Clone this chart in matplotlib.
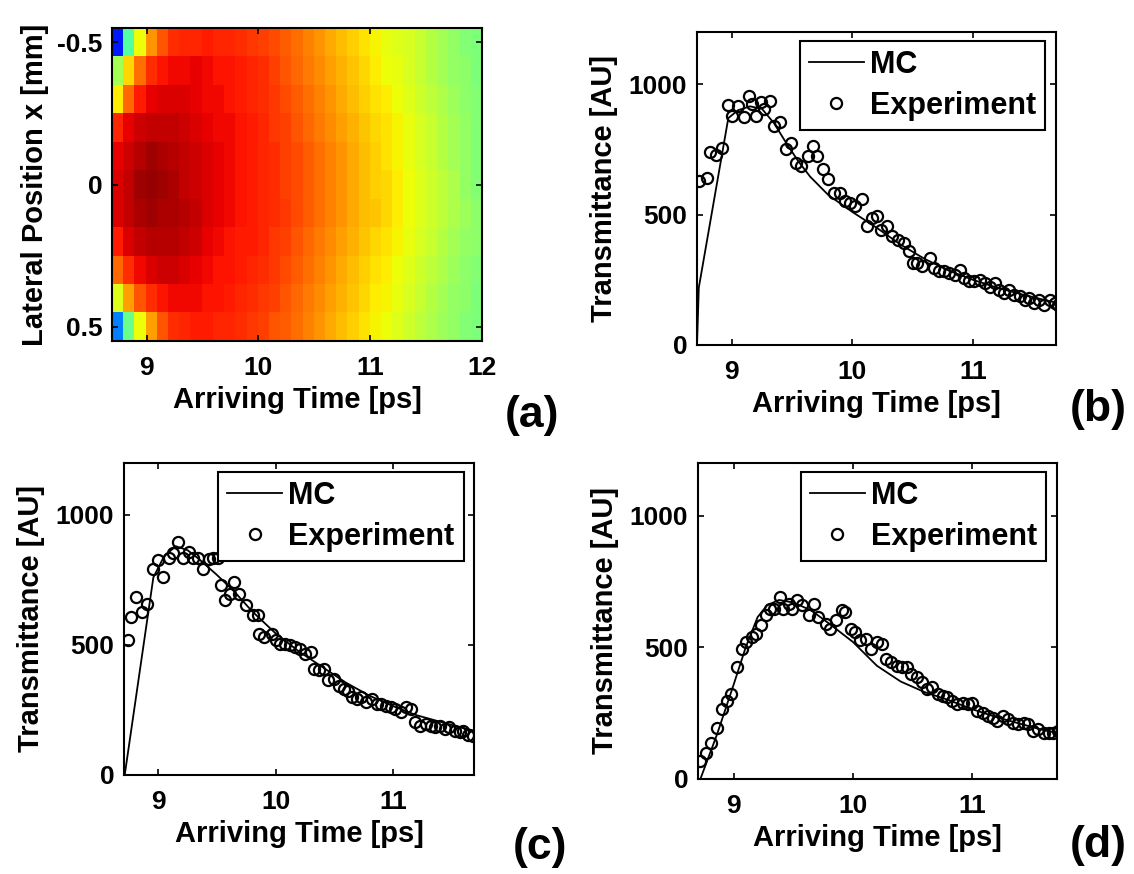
import numpy as np
import matplotlib
matplotlib.use('Agg')
import matplotlib.pyplot as plt

plt.rcParams['font.family'] = ['Liberation Sans', 'DejaVu Sans']
plt.rcParams['font.weight'] = 'bold'

# (a) lateral position map: rows are -0.5 .. 0.5 mm, columns are 0.1 ps time bins, values in % of max
map_rows = [
    [15, 45, 64, 75, 82, 86, 87, 87, 88, 87, 87, 86, 85, 84, 83, 81, 79, 77, 75, 73, 71, 69, 67, 65, 63, 62, 61, 59, 57, 55, 53, 51, 50],
    [55, 68, 79, 86, 89, 90, 90, 91, 90, 89, 89, 88, 87, 86, 84, 82, 80, 78, 76, 74, 72, 70, 68, 66, 64, 63, 61, 59, 57, 55, 53, 52, 50],
    [66, 80, 88, 91, 92, 92, 92, 91, 90, 90, 89, 88, 87, 86, 85, 83, 81, 79, 77, 75, 73, 71, 69, 67, 66, 64, 62, 60, 58, 56, 54, 52, 51],
    [87, 91, 93, 94, 94, 94, 93, 92, 91, 90, 90, 89, 88, 87, 85, 84, 82, 80, 78, 76, 74, 72, 70, 68, 67, 65, 63, 61, 59, 57, 55, 53, 51],
    [91, 93, 95, 97, 96, 95, 94, 93, 92, 91, 90, 89, 88, 87, 86, 84, 83, 81, 79, 77, 75, 73, 71, 69, 67, 65, 63, 61, 59, 57, 55, 53, 51],
    [92, 94, 97, 98, 97, 96, 94, 93, 92, 91, 90, 89, 88, 87, 86, 84, 83, 81, 79, 77, 75, 73, 71, 69, 68, 66, 64, 62, 60, 58, 56, 53, 51],
    [92, 94, 96, 97, 96, 96, 95, 94, 92, 91, 90, 89, 88, 87, 86, 85, 83, 81, 79, 77, 75, 73, 71, 70, 68, 66, 64, 62, 60, 58, 56, 54, 52],
    [88, 92, 94, 95, 95, 95, 94, 93, 91, 90, 89, 88, 88, 87, 85, 84, 82, 80, 78, 76, 74, 72, 70, 68, 67, 65, 63, 61, 59, 57, 55, 53, 52],
    [80, 86, 90, 92, 93, 93, 92, 91, 90, 89, 89, 88, 87, 86, 85, 83, 81, 79, 77, 75, 73, 71, 69, 67, 66, 64, 62, 60, 58, 56, 54, 52, 51],
    [62, 74, 82, 86, 89, 90, 90, 90, 89, 89, 88, 87, 86, 85, 84, 82, 80, 78, 76, 74, 72, 70, 68, 66, 65, 63, 61, 59, 57, 55, 53, 52, 50],
    [25, 48, 64, 74, 82, 86, 87, 88, 88, 87, 87, 86, 85, 84, 82, 81, 79, 77, 75, 73, 71, 69, 67, 65, 64, 62, 60, 58, 56, 54, 53, 51, 50],
]
map_time_range = [8.69, 12.0]
map_pos_range = [-0.55, 0.55]

# (b) experiment and MC
b_t = [8.73, 8.79, 8.82, 8.87, 8.92, 8.97, 9.00, 9.05, 9.10, 9.14, 9.17, 9.20, 9.24, 9.27, 9.32,
       9.35, 9.40, 9.45, 9.49, 9.53, 9.57, 9.63, 9.67, 9.71, 9.76, 9.80, 9.85, 9.90, 9.94, 9.98,
       10.02, 10.08, 10.12, 10.16, 10.20, 10.24, 10.29, 10.33, 10.38, 10.43, 10.47, 10.50, 10.54, 10.58, 10.64,
       10.68, 10.72, 10.76, 10.80, 10.85, 10.89, 10.93, 10.97, 11.01, 11.06, 11.10, 11.14, 11.18, 11.22, 11.26,
       11.30, 11.34, 11.39, 11.43, 11.47, 11.51, 11.55, 11.59, 11.64, 11.68, 11.71]
b_v = [628, 641, 740, 727, 756, 919, 878, 917, 876, 955, 925, 878, 932, 904, 936,
       840, 855, 750, 776, 699, 686, 724, 763, 724, 673, 635, 583, 583, 551, 545,
       532, 558, 455, 487, 494, 442, 455, 417, 404, 391, 359, 314, 314, 301, 333,
       295, 282, 282, 276, 269, 288, 256, 244, 244, 250, 237, 224, 237, 212, 199,
       212, 192, 186, 173, 179, 160, 173, 154, 173, 160, 155]
b_mc_t = [8.71, 8.725, 8.97, 9.05, 9.15, 9.25, 9.35, 9.45, 9.55, 9.65, 9.8, 10.0, 10.2, 10.4, 10.6, 10.8, 11.0, 11.2, 11.4, 11.6, 11.72]
b_mc_v = [0, 220, 870, 900, 915, 905, 850, 775, 705, 645, 575, 510, 450, 385, 330, 285, 250, 220, 195, 172, 160]

# (c) experiment and MC
c_t = [8.74, 8.77, 8.81, 8.86, 8.91, 8.96, 9.00, 9.04, 9.09, 9.13, 9.17, 9.21, 9.26, 9.30, 9.34,
       9.38, 9.43, 9.47, 9.51, 9.54, 9.57, 9.61, 9.65, 9.69, 9.75, 9.81, 9.85, 9.86, 9.90, 9.97,
       10.00, 10.04, 10.08, 10.12, 10.17, 10.21, 10.25, 10.30, 10.33, 10.37, 10.41, 10.45, 10.50, 10.54, 10.58,
       10.62, 10.65, 10.69, 10.73, 10.77, 10.82, 10.86, 10.90, 10.94, 10.98, 11.02, 11.07, 11.11, 11.15, 11.19,
       11.23, 11.28, 11.32, 11.36, 11.40, 11.44, 11.48, 11.53, 11.57, 11.60, 11.64, 11.68]
c_v = [521, 608, 685, 627, 659, 794, 826, 762, 833, 852, 897, 833, 859, 833, 833,
       794, 829, 833, 833, 730, 672, 698, 743, 698, 653, 614, 614, 544, 531, 544,
       518, 505, 505, 499, 492, 486, 467, 473, 409, 402, 409, 364, 370, 344, 332,
       325, 299, 293, 299, 280, 293, 274, 274, 267, 261, 254, 242, 261, 254, 203,
       190, 197, 190, 184, 190, 177, 184, 171, 165, 171, 152, 150]
c_mc_t = [8.716, 8.96, 9.05, 9.15, 9.25, 9.35, 9.5, 9.65, 9.8, 10.0, 10.2, 10.4, 10.6, 10.8, 11.0, 11.2, 11.4, 11.6, 11.7]
c_mc_v = [0, 760, 840, 880, 865, 830, 770, 705, 630, 545, 475, 415, 355, 305, 265, 230, 205, 180, 170]

# (d) experiment and MC
d_t = [8.72, 8.77, 8.81, 8.86, 8.90, 8.94, 8.98, 9.03, 9.07, 9.10, 9.15, 9.19, 9.23, 9.27, 9.30,
       9.34, 9.39, 9.41, 9.46, 9.49, 9.53, 9.57, 9.63, 9.67, 9.71, 9.77, 9.81, 9.86, 9.91, 9.93,
       9.98, 10.02, 10.06, 10.11, 10.15, 10.20, 10.24, 10.28, 10.32, 10.37, 10.41, 10.45, 10.49, 10.54, 10.58,
       10.62, 10.66, 10.71, 10.75, 10.79, 10.83, 10.87, 10.92, 10.96, 11.00, 11.04, 11.09, 11.13, 11.17, 11.21,
       11.26, 11.30, 11.34, 11.38, 11.43, 11.47, 11.51, 11.55, 11.60, 11.64, 11.68, 11.72]
d_v = [68, 99, 138, 195, 265, 297, 322, 424, 494, 520, 539, 552, 583, 622, 647,
       647, 692, 647, 666, 647, 679, 660, 622, 666, 615, 590, 571, 602, 641, 634,
       571, 558, 526, 532, 494, 520, 513, 456, 443, 431, 424, 424, 399, 386, 367,
       341, 348, 322, 316, 310, 297, 284, 290, 284, 290, 259, 252, 240, 233, 220,
       240, 227, 214, 208, 214, 208, 182, 188, 176, 176, 176, 182]
d_mc_t = [8.72, 8.86, 9.0, 9.1, 9.2, 9.28, 9.38, 9.5, 9.65, 9.8, 10.0, 10.2, 10.4, 10.6, 10.8, 11.0, 11.2, 11.4, 11.6, 11.72]
d_mc_v = [0, 170, 360, 500, 615, 660, 680, 670, 640, 590, 520, 430, 370, 330, 300, 265, 235, 210, 185, 175]

fig = plt.figure(figsize=(11.34, 8.74), dpi=100)
W, H = 1134.0, 874.0


def add_axes_px(left, top, right, bottom):
    # axes from pixel box of the reference picture
    return fig.add_axes([left / W, 1 - bottom / H, (right - left) / W, (bottom - top) / H])


def style_axes(ax):
    for s in ax.spines.values():
        s.set_linewidth(1.5)
    ax.tick_params(direction='in', length=4, width=1.2, top=True, right=True, labelsize=19)
    ax.tick_params(axis='x', pad=11)
    ax.tick_params(axis='y', pad=7)


# panel (a)
ax_a = add_axes_px(112, 28, 482, 341)
ax_a.imshow(np.array(map_rows), cmap='jet', vmin=0, vmax=100, aspect='auto', interpolation='nearest',
            extent=[map_time_range[0], map_time_range[1], map_pos_range[1], map_pos_range[0]])
ax_a.set_xticks([9, 10, 11, 12])
ax_a.set_yticks([-0.5, 0, 0.5])
ax_a.set_yticklabels(['-0.5', '0', '0.5'])
ax_a.set_xlabel('Arriving Time [ps]', fontsize=21, fontweight='bold', labelpad=4)
ax_a.set_ylabel('Lateral Position x [mm]', fontsize=21, fontweight='bold', labelpad=6)
style_axes(ax_a)


def curve_panel(box, xlim, t, v, mc_t, mc_v):
    ax = add_axes_px(*box)
    ax.plot(mc_t, mc_v, color='black', linewidth=1.3, label='MC')
    ax.plot(t, v, linestyle='None', marker='o', markersize=8, markerfacecolor='none',
            markeredgecolor='black', markeredgewidth=1.6, label='Experiment')
    ax.set_xlim(xlim)
    ax.set_ylim(0, 1200)
    ax.set_xticks([9, 10, 11])
    ax.set_yticks([0, 500, 1000])
    ax.set_xlabel('Arriving Time [ps]', fontsize=21, fontweight='bold', labelpad=4)
    ax.set_ylabel('Transmittance [AU]', fontsize=21, fontweight='bold', labelpad=8)
    style_axes(ax)
    leg = ax.legend(loc='upper right', bbox_to_anchor=(0.97, 0.972), fontsize=22, fancybox=False,
                    framealpha=1, edgecolor='black', handlelength=1.8, handletextpad=0.2,
                    borderpad=0.3, labelspacing=0.35, borderaxespad=0)
    leg.get_frame().set_linewidth(1.5)
    return ax


ax_b = curve_panel((697, 32, 1056, 345), (8.71, 11.69), b_t, b_v, b_mc_t, b_mc_v)
ax_c = curve_panel((124, 463, 474, 775), (8.71, 11.69), c_t, c_v, c_mc_t, c_mc_v)
ax_d = curve_panel((698, 463, 1057, 779), (8.70, 11.71), d_t, d_v, d_mc_t, d_mc_v)

# panel letters
for label, x, y in [('(a)', 532, 415), ('(b)', 1098, 410), ('(c)', 540, 848), ('(d)', 1098, 846)]:
    fig.text(x / W, 1 - y / H, label, fontsize=32, fontweight='bold', ha='center', va='center')

fig.savefig('out.png', dpi=100)
